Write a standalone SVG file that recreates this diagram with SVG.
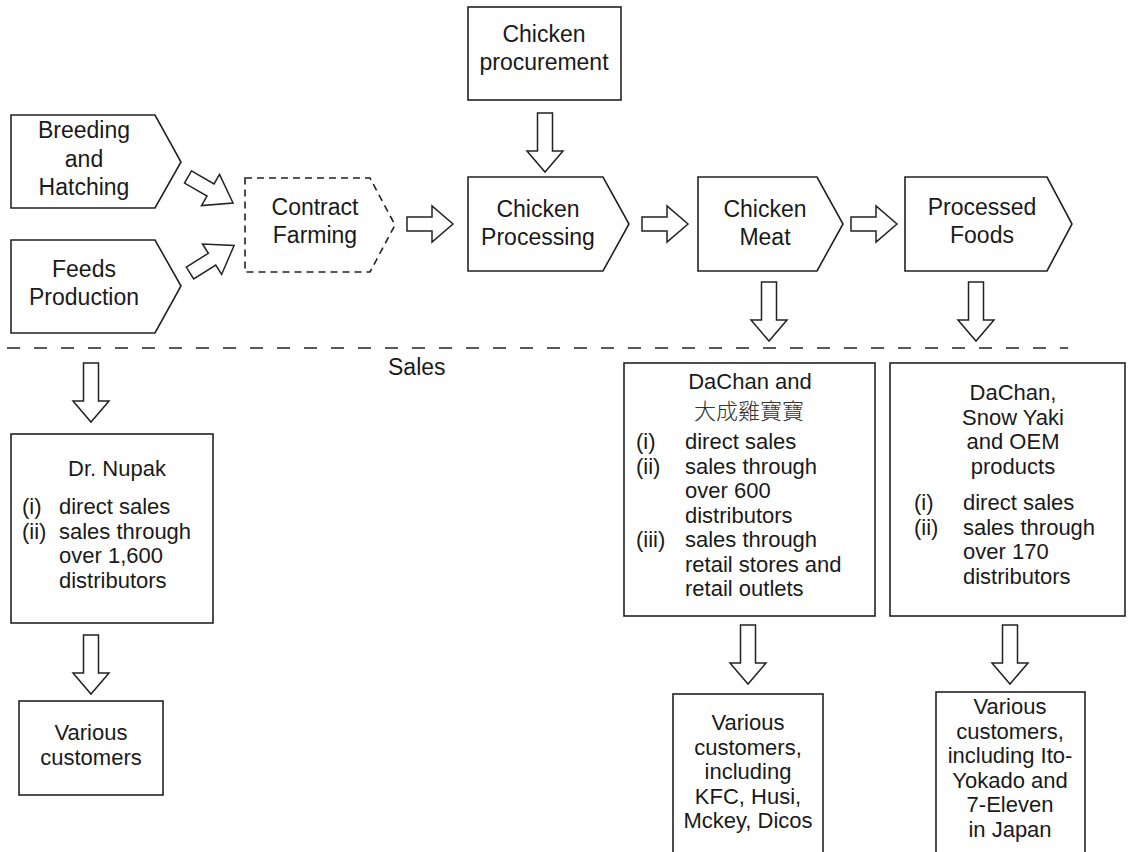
<svg xmlns="http://www.w3.org/2000/svg" width="1128" height="852" viewBox="0 0 1128 852">
<style>
.box{fill:#fff;stroke:#222;stroke-width:1.6}
.dash{fill:#fff;stroke:#222;stroke-width:1.6;stroke-dasharray:7 5}
.arr{fill:#fff;stroke:#222;stroke-width:1.5;stroke-linejoin:miter}
.sep{stroke:#222;stroke-width:1.6;stroke-dasharray:13 14;fill:none}
text{font-family:"Liberation Sans",Arial,Helvetica,sans-serif;font-size:23px;fill:#1a1a1a}
.s{font-size:22px}
.c{text-anchor:middle}
.cjk{font-family:"Noto Sans CJK TC","Noto Sans CJK SC",sans-serif;font-weight:300;font-size:22px;fill:#333}
</style>
<defs>
<polygon id="ah" points="0,-7 25,-7 25,-18 46,0 25,18 25,7 0,7"/>
<polygon id="ad" points="0,-7 26,-7 26,-18 52,0 26,18 26,7 0,7"/>
<polygon id="av" points="-7.5,0 7.5,0 7.5,38 18,38 0,59 -18,38 -7.5,38"/>
</defs>
<g id="connectors">
<use href="#ad" class="arr" transform="translate(188,177) rotate(30)"/>
<use href="#ad" class="arr" transform="translate(190,273) rotate(-32)"/>
<use href="#ah" class="arr" transform="translate(407,224)"/>
<use href="#ah" class="arr" transform="translate(642,224)"/>
<use href="#ah" class="arr" transform="translate(851,224)"/>
<use href="#av" class="arr" transform="translate(545,113)"/>
<use href="#av" class="arr" transform="translate(769,282)"/>
<use href="#av" class="arr" transform="translate(976,282)"/>
<use href="#av" class="arr" transform="translate(91,363)"/>
<use href="#av" class="arr" transform="translate(91,635)"/>
<use href="#av" class="arr" transform="translate(748,625)"/>
<use href="#av" class="arr" transform="translate(1010,625)"/>
<line class="sep" x1="7" y1="348" x2="1068" y2="348"/>
</g>
<g id="breeding">
<polygon class="box" points="11,115 155,115 181,162 155,208 11,208"/>
<text class="c" x="84" y="138">Breeding</text>
<text class="c" x="84" y="167">and</text>
<text class="c" x="84" y="195">Hatching</text>
</g>
<g id="feeds">
<polygon class="box" points="11,240 155,240 181,286 155,333 11,333"/>
<text class="c" x="84" y="277">Feeds</text>
<text class="c" x="84" y="305">Production</text>
</g>
<g id="contract">
<polygon class="dash" points="245,178 370,178 395,225 370,272 245,272"/>
<text class="c" x="315" y="215">Contract</text>
<text class="c" x="315" y="243">Farming</text>
</g>
<g id="procurement">
<rect class="box" x="468" y="7" width="153" height="93"/>
<text class="c" x="544" y="42">Chicken</text>
<text class="c" x="544" y="70">procurement</text>
</g>
<g id="processing">
<polygon class="box" points="468,177 603,177 629,224 603,271 468,271"/>
<text class="c" x="538" y="217">Chicken</text>
<text class="c" x="538" y="245">Processing</text>
</g>
<g id="meat">
<polygon class="box" points="698,177 817,177 843,224 817,271 698,271"/>
<text class="c" x="765" y="217">Chicken</text>
<text class="c" x="765" y="245">Meat</text>
</g>
<g id="processed">
<polygon class="box" points="905,177 1047,177 1072,224 1047,271 905,271"/>
<text class="c" x="982" y="215">Processed</text>
<text class="c" x="982" y="243">Foods</text>
</g>
<g id="sales-label">
<text x="388" y="375">Sales</text>
</g>
<g id="nupak">
<rect class="box" x="11" y="434" width="202" height="189"/>
<text class="c s" x="117" y="476">Dr. Nupak</text>
<text class="s" x="22" y="514">(i)</text>
<text class="s" x="59" y="514">direct sales</text>
<text class="s" x="22" y="538.5">(ii)</text>
<text class="s" x="59" y="538.5">sales through</text>
<text class="s" x="59" y="563">over 1,600</text>
<text class="s" x="59" y="587.5">distributors</text>
</g>
<g id="nupak-customers">
<rect class="box" x="19" y="701" width="144" height="94"/>
<text class="c s" x="91" y="740">Various</text>
<text class="c s" x="91" y="765">customers</text>
</g>
<g id="dachan">
<rect class="box" x="624" y="363" width="251" height="253"/>
<text class="c s" x="750" y="389">DaChan and</text>
<text class="c cjk" x="749" y="419">大成雞寶寶</text>
<text class="s" x="636" y="449">(i)</text>
<text class="s" x="685" y="449">direct sales</text>
<text class="s" x="636" y="473.5">(ii)</text>
<text class="s" x="685" y="473.5">sales through</text>
<text class="s" x="685" y="498">over 600</text>
<text class="s" x="685" y="522.5">distributors</text>
<text class="s" x="636" y="547">(iii)</text>
<text class="s" x="685" y="547">sales through</text>
<text class="s" x="685" y="571.5">retail stores and</text>
<text class="s" x="685" y="596">retail outlets</text>
</g>
<g id="snowyaki">
<rect class="box" x="890" y="363" width="235" height="253"/>
<text class="c s" x="1013" y="400">DaChan,</text>
<text class="c s" x="1013" y="424.5">Snow Yaki</text>
<text class="c s" x="1013" y="449">and OEM</text>
<text class="c s" x="1013" y="473.5">products</text>
<text class="s" x="914" y="510">(i)</text>
<text class="s" x="963" y="510">direct sales</text>
<text class="s" x="914" y="534.5">(ii)</text>
<text class="s" x="963" y="534.5">sales through</text>
<text class="s" x="963" y="559">over 170</text>
<text class="s" x="963" y="583.5">distributors</text>
</g>
<g id="dachan-customers">
<rect class="box" x="673" y="694" width="150" height="170"/>
<text class="c s" x="748" y="730">Various</text>
<text class="c s" x="748" y="754.5">customers,</text>
<text class="c s" x="748" y="779">including</text>
<text class="c s" x="748" y="803.5">KFC, Husi,</text>
<text class="c s" x="748" y="828">Mckey, Dicos</text>
</g>
<g id="snowyaki-customers">
<rect class="box" x="936" y="692" width="149" height="172"/>
<text class="c s" x="1010" y="714">Various</text>
<text class="c s" x="1010" y="738.5">customers,</text>
<text class="c s" x="1010" y="763">including Ito-</text>
<text class="c s" x="1010" y="787.5">Yokado and</text>
<text class="c s" x="1010" y="812">7-Eleven</text>
<text class="c s" x="1010" y="836.5">in Japan</text>
</g>
</svg>
